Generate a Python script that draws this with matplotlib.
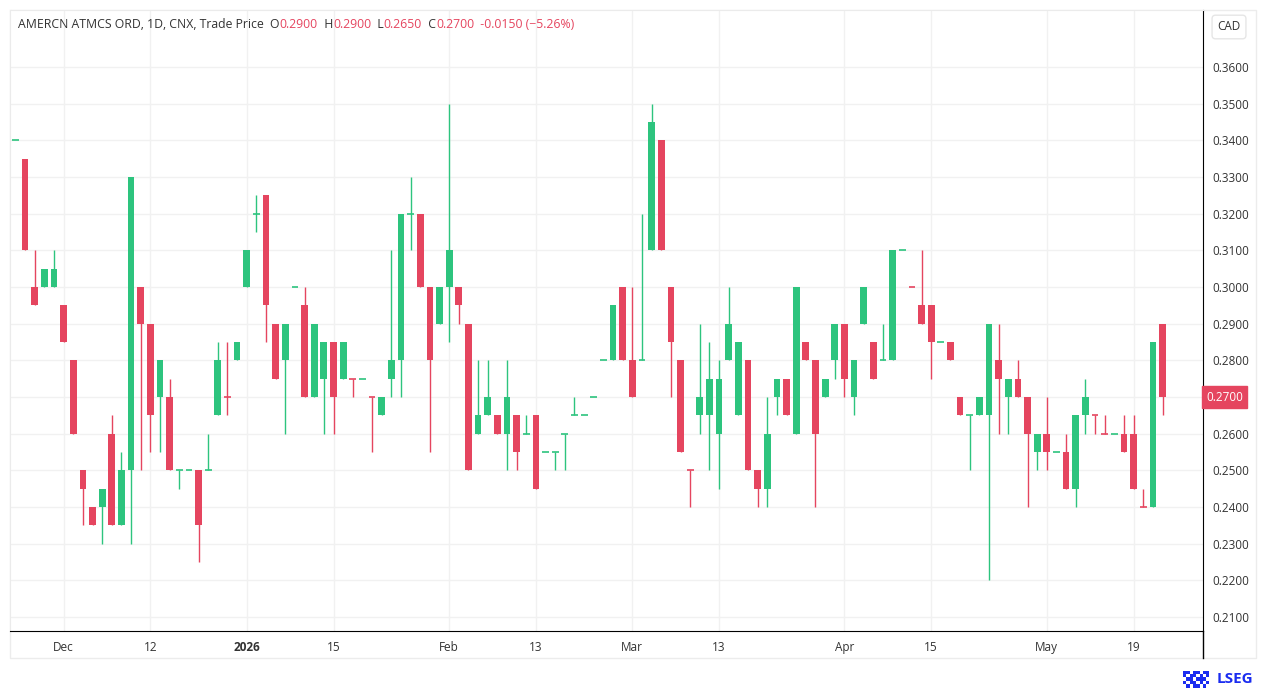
import numpy as np
import matplotlib.pyplot as plt
from matplotlib.patches import Rectangle
from matplotlib.lines import Line2D
import matplotlib.transforms as mtransforms

plt.rcParams['font.family'] = ['Open Sans', 'DejaVu Sans']

# daily candles, AMERCN ATMCS ORD (CNX), late Nov 2025 .. May 2026
opens = [0.340, 0.335, 0.300, 0.300, 0.300, 0.295, 0.280, 0.250, 0.240, 0.240,
         0.260, 0.235, 0.250, 0.300, 0.290, 0.270, 0.270, 0.250, 0.250, 0.250,
         0.250, 0.265, 0.270, 0.280, 0.300, 0.320, 0.325, 0.290, 0.280, 0.300,
         0.295, 0.270, 0.275, 0.285, 0.275, 0.275, 0.275, 0.270, 0.265, 0.275,
         0.280, 0.320, 0.320, 0.300, 0.290, 0.300, 0.300, 0.290, 0.260, 0.265,
         0.265, 0.260, 0.265, 0.260, 0.265, 0.255, 0.255, 0.260, 0.265, 0.265,
         0.270, 0.280, 0.280, 0.300, 0.280, 0.280, 0.310, 0.340, 0.300, 0.280,
         0.250, 0.265, 0.265, 0.260, 0.280, 0.265, 0.280, 0.250, 0.245, 0.270,
         0.275, 0.260, 0.285, 0.280, 0.270, 0.280, 0.290, 0.270, 0.290, 0.285,
         0.280, 0.280, 0.310, 0.300, 0.295, 0.295, 0.285, 0.285, 0.270, 0.265,
         0.265, 0.265, 0.280, 0.270, 0.275, 0.270, 0.255, 0.260, 0.255, 0.255,
         0.245, 0.265, 0.265, 0.260, 0.260, 0.260, 0.260, 0.240, 0.240, 0.290]
highs = [0.340, 0.335, 0.310, 0.305, 0.310, 0.295, 0.280, 0.250, 0.240, 0.245,
         0.265, 0.255, 0.330, 0.300, 0.290, 0.280, 0.275, 0.250, 0.250, 0.250,
         0.260, 0.285, 0.285, 0.285, 0.310, 0.325, 0.325, 0.290, 0.290, 0.300,
         0.300, 0.290, 0.285, 0.285, 0.285, 0.275, 0.275, 0.270, 0.270, 0.310,
         0.320, 0.330, 0.320, 0.300, 0.300, 0.350, 0.300, 0.290, 0.280, 0.280,
         0.265, 0.280, 0.265, 0.265, 0.265, 0.255, 0.255, 0.260, 0.270, 0.265,
         0.270, 0.280, 0.295, 0.300, 0.300, 0.320, 0.350, 0.340, 0.300, 0.280,
         0.250, 0.290, 0.285, 0.280, 0.300, 0.285, 0.280, 0.250, 0.270, 0.275,
         0.275, 0.300, 0.285, 0.280, 0.275, 0.290, 0.290, 0.280, 0.300, 0.285,
         0.290, 0.310, 0.310, 0.300, 0.310, 0.295, 0.285, 0.285, 0.270, 0.265,
         0.270, 0.290, 0.290, 0.275, 0.280, 0.270, 0.260, 0.270, 0.255, 0.260,
         0.265, 0.275, 0.265, 0.265, 0.260, 0.265, 0.265, 0.245, 0.285, 0.290]
lows = [0.340, 0.310, 0.295, 0.300, 0.300, 0.285, 0.260, 0.235, 0.235, 0.230,
        0.235, 0.235, 0.230, 0.250, 0.255, 0.255, 0.250, 0.245, 0.250, 0.225,
        0.250, 0.265, 0.265, 0.280, 0.300, 0.315, 0.285, 0.275, 0.260, 0.300,
        0.270, 0.270, 0.260, 0.260, 0.275, 0.270, 0.275, 0.255, 0.265, 0.270,
        0.270, 0.310, 0.300, 0.255, 0.290, 0.285, 0.290, 0.250, 0.260, 0.265,
        0.260, 0.250, 0.250, 0.260, 0.245, 0.255, 0.250, 0.250, 0.265, 0.265,
        0.270, 0.280, 0.280, 0.280, 0.270, 0.280, 0.310, 0.310, 0.270, 0.255,
        0.240, 0.260, 0.250, 0.245, 0.280, 0.265, 0.250, 0.240, 0.240, 0.265,
        0.265, 0.260, 0.280, 0.240, 0.270, 0.275, 0.270, 0.265, 0.290, 0.275,
        0.280, 0.280, 0.310, 0.300, 0.290, 0.275, 0.285, 0.280, 0.265, 0.250,
        0.265, 0.220, 0.260, 0.260, 0.270, 0.240, 0.250, 0.250, 0.255, 0.245,
        0.240, 0.260, 0.260, 0.260, 0.260, 0.255, 0.245, 0.240, 0.240, 0.265]
closes = [0.340, 0.310, 0.295, 0.305, 0.305, 0.285, 0.260, 0.245, 0.235, 0.245,
          0.235, 0.250, 0.330, 0.290, 0.265, 0.280, 0.250, 0.250, 0.250, 0.235,
          0.250, 0.280, 0.270, 0.285, 0.310, 0.320, 0.295, 0.275, 0.290, 0.300,
          0.270, 0.290, 0.285, 0.270, 0.285, 0.275, 0.275, 0.270, 0.270, 0.280,
          0.320, 0.320, 0.300, 0.280, 0.300, 0.310, 0.295, 0.250, 0.265, 0.270,
          0.260, 0.270, 0.255, 0.260, 0.245, 0.255, 0.255, 0.260, 0.265, 0.265,
          0.270, 0.280, 0.295, 0.280, 0.270, 0.280, 0.345, 0.310, 0.285, 0.255,
          0.250, 0.270, 0.275, 0.275, 0.290, 0.285, 0.250, 0.245, 0.260, 0.275,
          0.265, 0.300, 0.280, 0.260, 0.275, 0.290, 0.275, 0.280, 0.300, 0.275,
          0.280, 0.310, 0.310, 0.300, 0.290, 0.285, 0.285, 0.280, 0.265, 0.265,
          0.270, 0.290, 0.275, 0.275, 0.270, 0.260, 0.260, 0.255, 0.255, 0.245,
          0.265, 0.270, 0.265, 0.260, 0.260, 0.255, 0.245, 0.240, 0.285, 0.270]

# x-axis labels sit on these candles
tick_idx = [5, 14, 24, 33, 45, 54, 64, 73, 86, 95, 107, 116]
tick_lab = ['Dec', '12', '2026', '15', 'Feb', '13', 'Mar', '13', 'Apr', '15', 'May', '19']
price_ticks = [0.21, 0.22, 0.23, 0.24, 0.25, 0.26, 0.27, 0.28, 0.29, 0.30,
               0.31, 0.32, 0.33, 0.34, 0.35, 0.36]

GREEN = '#2dc47e'
RED = '#e5455f'
GRID = '#f1f1f1'
TXT = '#333333'

o = np.array(opens)
h = np.array(highs)
l = np.array(lows)
c = np.array(closes)
idx = np.arange(len(o))
prev = np.r_[c[0], c[:-1]]
up = np.where(c > o, True, np.where(c < o, False, c >= prev))
colors = np.where(up, GREEN, RED)

W, H = 1266, 689
fig = plt.figure(figsize=(W / 100, H / 100), dpi=100)
fig.patch.set_facecolor('white')
ax = fig.add_axes([10 / W, 1 - 631 / H, (1203 - 10) / W, (631 - 10) / H])

ax.vlines(idx, l, h, colors=colors, lw=1, zorder=2)
body = c - o
ax.bar(idx, np.abs(body), bottom=np.minimum(o, c), width=0.7,
       color=colors, lw=0, zorder=3)
doji = body == 0
ax.hlines(c[doji], idx[doji] - 0.35, idx[doji] + 0.35,
          colors=colors[doji], lw=1.2, zorder=3)

ax.set_xlim(-0.56, 123.2)
ax.set_ylim(0.20618, 0.37555)

# the last-price tag covers the tick label at the close
ax.set_yticks(price_ticks)
ax.set_yticklabels(['' if abs(p - c[-1]) < 1e-9 else '%.4f' % p for p in price_ticks])
ax.yaxis.tick_right()
ax.tick_params(axis='y', length=0, pad=7, labelsize=8.5, labelcolor=TXT)
ax.set_xticks(tick_idx)
ax.set_xticklabels(tick_lab)
ax.tick_params(axis='x', length=0, pad=7, labelsize=8.5, labelcolor=TXT)
for t in ax.get_xticklabels():
    if t.get_text() == '2026':
        t.set_fontweight('bold')

ax.grid(True, color=GRID, lw=1, zorder=0)
ax.set_axisbelow(True)
for s in ['left', 'top']:
    ax.spines[s].set_color('#ebebeb')
ax.spines['bottom'].set_color('black')
ax.spines['right'].set_color('black')

# outer frame and right axis line running through the date strip
fig.add_artist(Rectangle((10 / W, 1 - 658 / H), (1256 - 10) / W, (658 - 10) / H,
                         transform=fig.transFigure, fill=False,
                         edgecolor='#ececec', lw=1, zorder=0))
fig.add_artist(Line2D([1203 / W, 1203 / W], [1 - 658 / H, 1 - 631 / H],
                      transform=fig.transFigure, color='black', lw=1))

# last price label
trans = mtransforms.blended_transform_factory(ax.transAxes, ax.transData)
ax.text(1.0 + 3 / (1203 - 10), c[-1], '%.4f' % c[-1], transform=trans,
        ha='left', va='center', fontsize=8.5, color='white', clip_on=False,
        bbox=dict(boxstyle='square,pad=0.35', fc=RED, ec=RED))

# currency box
fig.text(1229 / W, 1 - 27 / H, 'CAD', ha='center', va='center', fontsize=8.5,
         color=TXT, bbox=dict(boxstyle='round,pad=0.45,rounding_size=0.3',
                              fc='white', ec='#e6e6e6'))

# header line
chg = c[-1] - c[-2]
pct = chg / c[-2] * 100
parts = [('AMERCN ATMCS ORD, 1D, CNX, Trade Price  O', TXT),
         ('%.4f' % o[-1], RED), ('  H', TXT), ('%.4f' % h[-1], RED),
         ('  L', TXT), ('%.4f' % l[-1], RED), ('  C', TXT), ('%.4f' % c[-1], RED),
         ('  %.4f (\u2212%.2f%%)' % (chg, abs(pct)), RED)]
prev_t = fig.text(18 / W, 1 - 25 / H, parts[0][0], fontsize=8.8, color=parts[0][1],
                  va='center', ha='left')
for txt, col in parts[1:]:
    prev_t = ax.annotate(txt, xy=(1, 0.5), xycoords=prev_t, fontsize=8.8,
                         color=col, va='center', ha='left',
                         annotation_clip=False)

# LSEG mark
logo_cells = [(0, 0), (1, 0), (3, 0), (4, 0), (6, 0), (7, 0),
              (0, 1), (2, 1), (3, 1), (5, 1), (7, 1),
              (1, 2), (2, 2), (4, 2), (5, 2), (6, 2),
              (0, 3), (2, 3), (3, 3), (5, 3), (7, 3),
              (1, 4), (3, 4), (4, 4), (6, 4)]
for gx, gy in logo_cells:
    fig.add_artist(Rectangle(((1183 + gx * 3.3) / W, 1 - (671 + gy * 3.4 + 3) / H),
                             3.3 / W, 3.4 / H, transform=fig.transFigure,
                             color='#1a2cf0', lw=0))
fig.text(1217 / W, 1 - 679 / H, 'LSEG', fontsize=11, fontweight='bold',
         color='#1a2cf0', ha='left', va='center')

fig.savefig('out.png', dpi=100)
